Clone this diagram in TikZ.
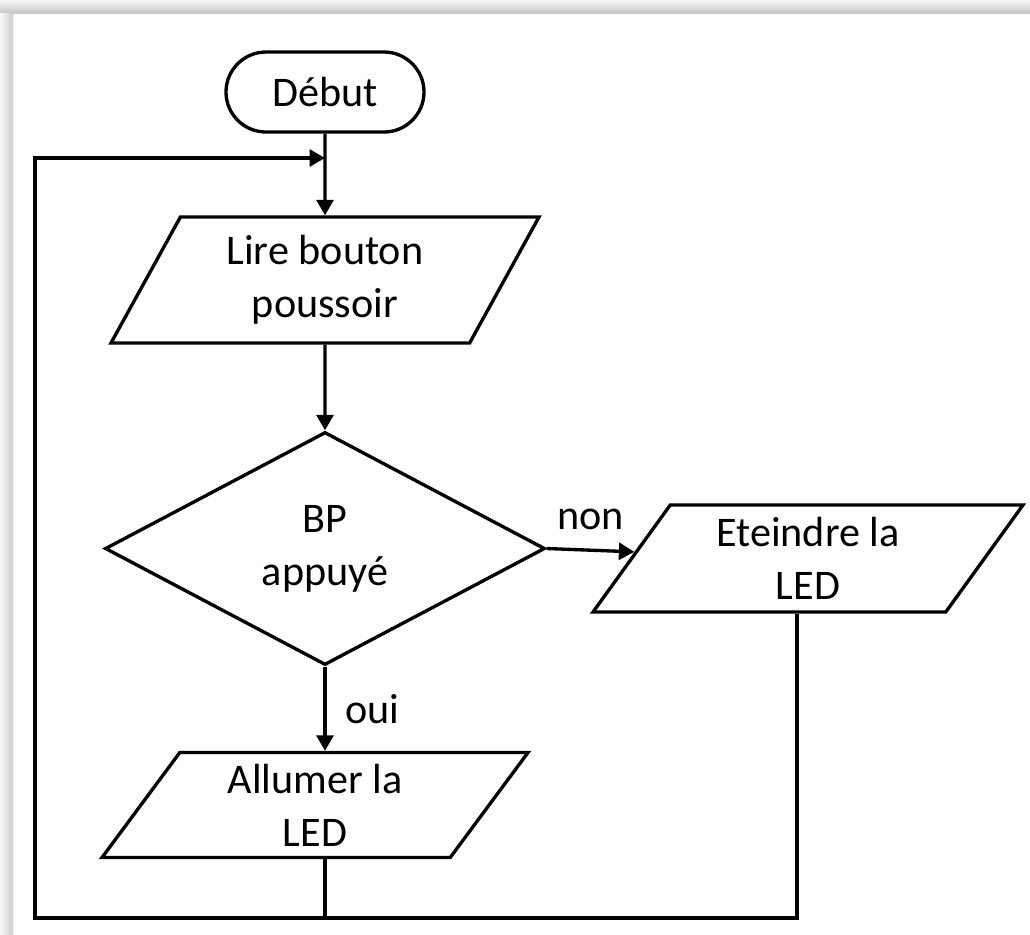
\documentclass[tikz,border=0pt]{standalone}
\usepackage{fontspec}
\setmainfont{Carlito}
\usetikzlibrary{shapes.geometric,arrows.meta}

\begin{document}
\begin{tikzpicture}[
    font=\fontsize{12}{15}\selectfont,
    trait/.style={line width=0.95pt},
    fleche/.style={trait,-{Triangle[length=4.4pt,width=4.8pt]}},
    debutfin/.style={trait,draw,rectangle,rounded corners=0.4cm,minimum width=1.98cm,minimum height=0.8cm},
    entreesortie/.style={trait,draw,trapezium,trapezium stretches body,align=center,inner sep=2pt},
    decision/.style={trait,draw,diamond,align=center,inner sep=1pt,minimum width=4.4cm,minimum height=2.33cm}]
  \useasboundingbox (0,0) rectangle (10.30,-9.34);
  % ombre du cadre
  \shade[top color=gray!6,bottom color=gray!45] (0,0) rectangle (10.30,-0.13);
  \shade[left color=gray!6,right color=gray!40] (0,-0.13) rectangle (0.13,-9.34);

  \node[debutfin] (debut) at (3.25,-0.92) {Début};
  \node[entreesortie,trapezium left angle=56,trapezium right angle=124,
        minimum width=4.28cm,minimum height=1.26cm] (lire) at (3.25,-2.80) {Lire bouton\\poussoir};
  \node[decision] (bp) at (3.25,-5.485) {BP\\appuyé};
  \node[entreesortie,trapezium left angle=51.2,trapezium right angle=128.8,
        minimum width=4.30cm,minimum height=1.07cm] (eteindre) at (8.08,-5.585) {Eteindre la\\LED};
  \node[entreesortie,trapezium left angle=51,trapezium right angle=129,
        minimum width=4.26cm,minimum height=1.05cm] (allumer) at (3.15,-8.05) {Allumer la\\LED};

  \coordinate (entree) at (3.25,-1.58);
  \coordinate (bas) at (0.35,-9.18);
  \coordinate (sortie) at (7.97,0);

  \draw[fleche] (debut) -- (lire);
  \draw[fleche] (lire) -- (bp);
  \draw[fleche] (bp.east) -- node[above=2pt] {non} (eteindre);
  \draw[fleche] (bp.south) -- node[right=2pt] {oui} (allumer.north -| bp.south);
  % retour a la lecture
  \draw[trait] (allumer.south -| bp.south) -- (bp.south |- bas);
  \draw[fleche] (eteindre.south -| sortie) |- (bas) -- (bas |- entree) -- (entree);
\end{tikzpicture}
\end{document}
